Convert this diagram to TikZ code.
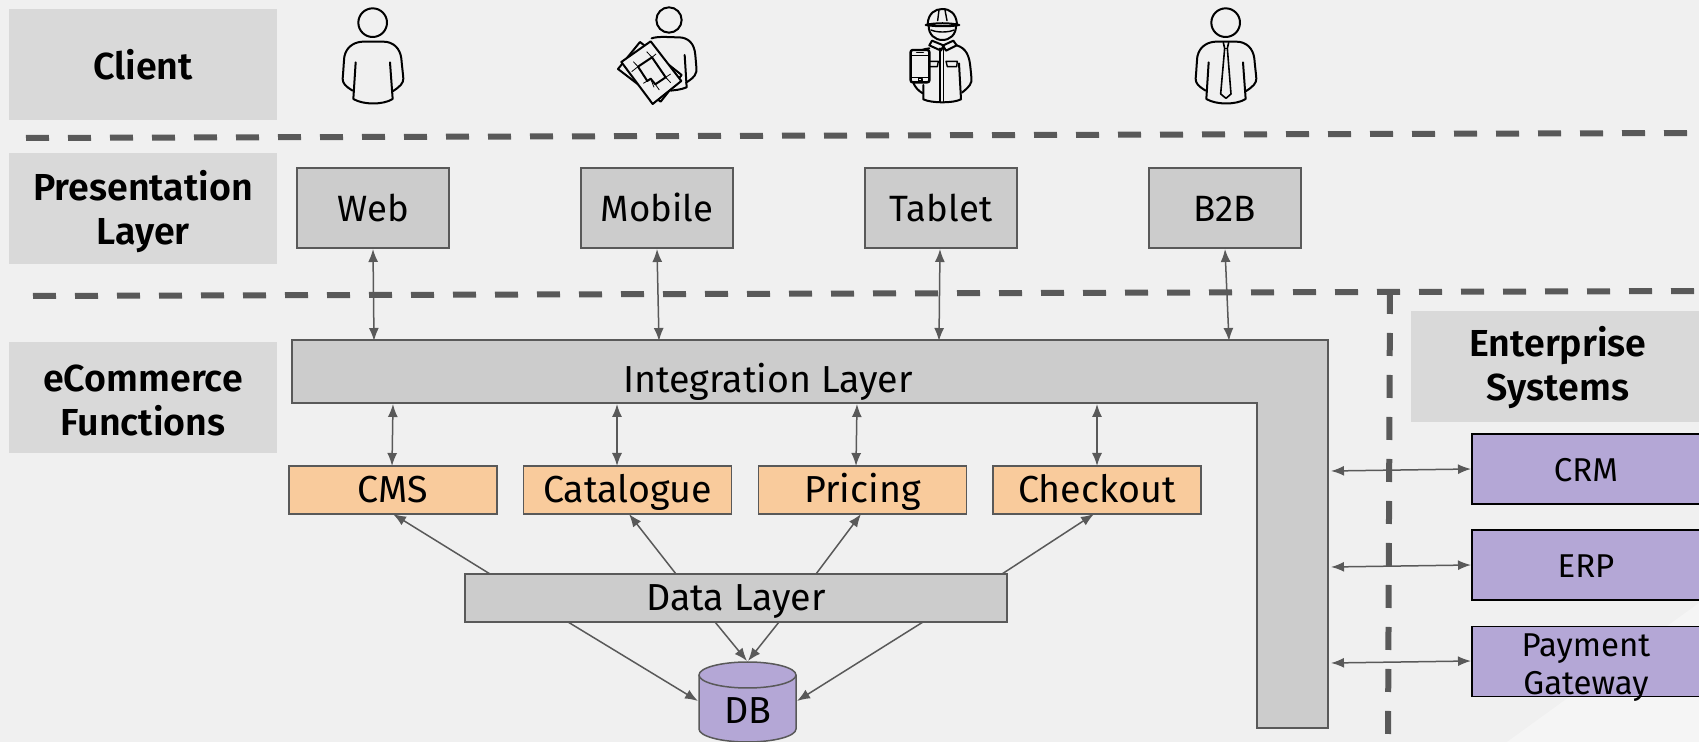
\documentclass[tikz,border=0pt]{standalone}
\usepackage{fontspec}
\setmainfont[BoldFont={Fira Sans SemiBold}]{Fira Sans}
\usetikzlibrary{arrows.meta}
\definecolor{bgc}{HTML}{F0F0F0}
\definecolor{lab}{HTML}{D9D9D9}
\definecolor{gbox}{HTML}{CCCCCC}
\definecolor{orng}{HTML}{F9CB9C}
\definecolor{purp}{HTML}{B4A7D6}
\definecolor{ln}{HTML}{595959}
\newcommand{\txt}{\fontsize{18.8}{22}\selectfont}
\newcommand{\upstrut}[1]{\rule{0pt}{#1}}
\tikzset{
 labelbox/.style={fill=lab,draw=none,minimum width=134pt,minimum height=55.5pt,align=center,font=\fontsize{18.8}{22}\selectfont\bfseries,inner sep=0pt,anchor=center},
 pres/.style={fill=gbox,draw=ln,line width=.75pt,minimum width=76pt,minimum height=40pt,text height=15.5pt,text depth=1.5pt,font=\fontsize{18.3}{22}\selectfont,inner sep=0pt},
 func/.style={fill=orng,draw=ln,line width=.75pt,minimum width=104pt,minimum height=24pt,text height=15pt,text depth=2pt,font=\txt,inner sep=0pt},
 ent/.style={fill=purp,draw=black,line width=.75pt,minimum width=114pt,minimum height=35pt,align=center,font=\fontsize{16.5}{19}\selectfont,inner sep=0pt},
 sep/.style={draw=ln,line width=3pt,dash pattern=on 11.5pt off 9.5pt},
 dbl/.style={draw=ln,line width=.75pt,{Latex[length=6.5pt,width=5pt]}-{Latex[length=6.5pt,width=5pt]}},
 sgl/.style={draw=ln,line width=.75pt,-{Latex[length=6.5pt,width=5pt]}},
 ico/.style={draw=black,line width=1pt,line cap=round,line join=round},
 thinico/.style={draw=black,line width=.4pt},
}
\begin{document}
\begin{tikzpicture}[x=.5pt,y=-.5pt]
\useasboundingbox (0,0) rectangle (1699,742);
\fill[bgc] (0,0) rectangle (1699,742);
\fill[white,opacity=.35] (1699,603) -- (1699,742) -- (1507,742) -- cycle;
% labels
\node[labelbox] (client) at (143,64.5) {Client};
\node[labelbox] (presl) at (143,208.5) {\upstrut{18pt}Presentation\\Layer};
\node[labelbox] (ecom) at (143,398) {\upstrut{16pt}eCommerce\\Functions};
\node[labelbox,minimum width=147pt] (entl) at (1558,366.5) {\upstrut{16pt}Enterprise\\Systems};
% separators
\coordinate (s1a) at (26,138); \coordinate (s1b) at (1699,133);
\coordinate (s2a) at (33,296); \coordinate (s2b) at (1699,291);
\coordinate (s3a) at (1390,291); \coordinate (s3b) at (1388,742);
\draw[sep] (s1a) -- (s1b);
\draw[sep] (s2a) -- (s2b);
\draw[sep] (s3a) -- (s3b);
% presentation
\node[pres] (web) at (373,208) {Web};
\node[pres] (mobile) at (657,208) {Mobile};
\node[pres] (tablet) at (941,208) {Tablet};
\node[pres] (b2b) at (1225,208) {B2B};
% integration
\draw[fill=gbox,draw=ln,line width=.75pt] (292,340) -- (1328,340) -- (1328,728) -- (1257,728) -- (1257,403) -- (292,403) -- cycle;
\node[font=\txt,inner sep=0pt,text height=15pt,text depth=2pt] (integ) at (768,380) {Integration Layer};
% functions
\node[func] (cms) at (393,490) {CMS};
\node[func] (cat) at (627.5,490) {Catalogue};
\node[func] (pri) at (862.5,490) {Pricing};
\node[func] (che) at (1097,490) {Checkout};
% data
\node[func,fill=gbox,minimum width=271pt] (data) at (736,598) {Data Layer};
% db
\draw[fill=purp,draw=ln,line width=.75pt] (699,675) -- (699,729) arc[start angle=180,end angle=0,x radius=48.5,y radius=13] -- (796,675) arc[start angle=0,end angle=-180,x radius=48.5,y radius=13];
\draw[draw=ln,line width=.75pt] (699,675) arc[start angle=180,end angle=0,x radius=48.5,y radius=13];
\node[font=\txt,inner sep=0pt] (db) at (748,711) {DB};
% enterprise
\node[ent,text height=13.5pt,text depth=.6pt] (crm) at (1586,469) {CRM};
\node[ent,text height=13.5pt,text depth=.6pt] (erp) at (1586,565) {ERP};
\node[ent] (pay) at (1586,661.5) {\raisebox{2.6pt}[0pt][0pt]{\begin{tabular}[t]{@{}c@{}}Payment\\Gateway\end{tabular}}};
% connector ends
\foreach \n/\x/\y in {i1/374/341,i2/659/341,i3/939/341,i4/1229/341,
 j1/393/404,j2/617/404,j3/857/404,j4/1097/404,
 c1/392/466,c2/617/466,c3/856/466,c4/1097/466,
 d1/490/574,d2/676/574,d3/816/574,d4/1002/574,
 f1/393/514,f2/629/514,f3/861/514,f4/1094/514,
 e1/568/622,e2/715/622,e3/779/622,e4/923/622,
 t1/698/701,t2/747/661,t3/748/661,t4/797/701,
 w1/373/249,w2/657/249,w3/940/249,w4/1225/249,
 k1/1331/471,k2/1331/567,k3/1331/663,
 m1/1471/469,m2/1471/565,m3/1471/661}
 {\coordinate (\n) at (\x,\y);}
\foreach \a/\b in {w1/i1,w2/i2,w3/i3,w4/i4,j1/c1,j2/c2,j3/c3,j4/c4,k1/m1,k2/m2,k3/m3}
 {\draw[dbl] (\a) -- (\b);}
\foreach \a/\b in {d1/f1,d2/f2,d3/f3,d4/f4,e1/t1,e2/t2,e3/t3,e4/t4}
 {\draw[sgl] (\a) -- (\b);}
% icon 1
\begin{scope}[shift={(300,0)},scale=1/3]
\draw[ico] (218,68) circle[radius=43];
\draw[ico] (158,272) .. controls (135,258) and (128,250) .. (128,236) .. controls (130,215) and (131,190) .. (133,170) .. controls (140,135) and (170,125) .. (190,125) -- (250,125) .. controls (280,125) and (300,145) .. (304,175) .. controls (306,200) and (309,220) .. (310,236) .. controls (310,250) and (300,260) .. (278,274);
\draw[ico] (167,187) -- (160,297) .. controls (190,315) and (250,315) .. (278,297) -- (270,187);
% icon 2
\draw[ico] (1107,60) circle[radius=38];
\draw[ico] (1055,115) .. controls (1075,108) and (1110,112) .. (1135,112) .. controls (1165,112) and (1183,130) .. (1186,165) .. controls (1188,190) and (1190,205) .. (1189,215) .. controls (1185,232) and (1170,240) .. (1158,248);
\draw[ico] (1154,165) -- (1160,262) .. controls (1140,270) and (1125,270) .. (1112,272);
\draw[ico,fill=bgc] (1020,126) -- (1145,225) -- (1082,305) -- (954,207) -- cycle;
\draw[ico,fill=bgc] (1052,124) -- (1144,243) -- (1058,312) -- (964,186) -- cycle;
\draw[ico] (1014,200) -- (1056,172) -- (1097,232) -- (1066,253) -- (1052,236) -- (1042,243) -- cycle;
\draw[thinico] (1000,185) -- (1014,200) (1040,155) -- (1056,172) (1030,250) -- (1042,243) (1066,253) -- (1078,270) (1097,232) -- (1112,222) (1097,232) -- (1112,248) (995,215) -- (1014,200) (1056,172) -- (1068,162) (1052,236) -- (1062,262);
\end{scope}
% icons 3,4
\begin{scope}[shift={(860,0)},scale=1/3]
% worker
\draw[ico] (206,78) .. controls (206,104) and (225,120) .. (247,120) .. controls (270,120) and (288,104) .. (288,78);
\draw[ico] (203,72) .. controls (205,40) and (225,27) .. (247,27) .. controls (270,27) and (288,40) .. (291,72);
\draw[ico] (197,75) .. controls (225,68) and (270,68) .. (298,75) .. controls (275,80) and (225,80) .. (197,75);
\draw[ico,line width=.7pt] (237,30) -- (233,62) (255,30) -- (261,62);
\draw[ico,line width=.7pt] (213,90) .. controls (230,98) and (265,98) .. (282,90);
\draw[ico] (216,122) -- (208,136) -- (243,152) -- (250,138) -- (258,152) -- (290,136) -- (280,122) -- (250,136) -- cycle;
\draw[ico] (290,136) .. controls (320,145) and (328,170) .. (331,200) .. controls (333,220) and (335,235) .. (334,245) .. controls (330,260) and (315,270) .. (306,278);
\draw[ico] (297,190) -- (303,298) .. controls (280,310) and (215,310) .. (190,298) -- (190,255);
\draw[ico,line width=.8pt] (240,145) -- (240,305) (251,145) -- (251,305);
\draw[ico] (208,145) .. controls (200,146) and (190,148) .. (180,152);
\draw[ico,line width=.7pt] (210,184) -- (235,184) -- (232,200) -- (210,200);
\draw[ico,line width=.7pt] (258,184) -- (292,184) -- (290,200) -- (262,200) -- cycle;
\draw[ico] (160,248) .. controls (165,262) and (175,272) .. (188,280);
\draw[ico,fill=bgc,line width=1.2pt,rounded corners=1pt] (152,150) rectangle (208,247);
\draw[ico,line width=.7pt] (154,166) -- (206,166) (154,232) -- (206,232);
\draw[ico,line width=.7pt] (175,235) rectangle (186,243);
\draw[ico,line width=.7pt] (170,158) -- (190,158);
% exec
\draw[ico] (1097,68) circle[radius=43];
\draw[ico] (1037,272) .. controls (1014,258) and (1007,250) .. (1007,236) .. controls (1009,215) and (1010,190) .. (1012,170) .. controls (1019,135) and (1049,125) .. (1069,125) -- (1129,125) .. controls (1159,125) and (1179,145) .. (1183,175) .. controls (1185,200) and (1188,220) .. (1189,236) .. controls (1189,250) and (1179,260) .. (1157,274);
\draw[ico] (1046,187) -- (1039,297) .. controls (1069,315) and (1129,315) .. (1157,297) -- (1149,187);
\draw[ico,line width=.8pt] (1090,128) -- (1094,145) -- (1082,282) -- (1098,295) -- (1113,282) -- (1102,145) -- (1106,128);
\draw[ico,line width=.8pt] (1094,145) -- (1102,145);
\end{scope}
\end{tikzpicture}
\end{document}
